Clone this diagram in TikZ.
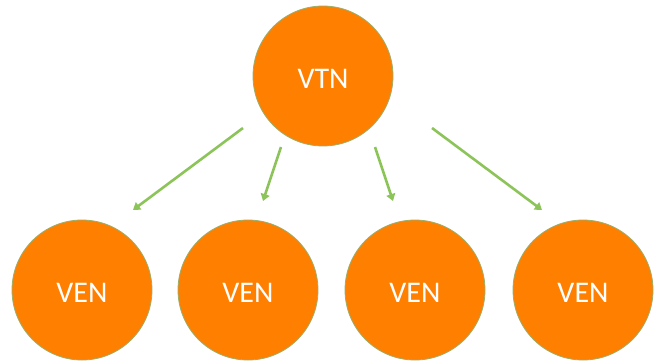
\documentclass[tikz,border=0pt]{standalone}
\usepackage{fontspec}
\setmainfont{Carlito}
\usetikzlibrary{arrows.meta}
\definecolor{orangefill}{HTML}{FF7F00}
\definecolor{rimgreen}{HTML}{9BAF6A}
\definecolor{arrowgreen}{HTML}{8CC45A}
\newcommand{\balltext}[1]{\raisebox{0pt}[\dimexpr\height+5pt\relax][0pt]{#1}}
\begin{document}
\begin{tikzpicture}[x=1pt,y=-1pt,
  ball/.style={circle, fill=orangefill, draw=rimgreen, line width=0.8pt, minimum size=140pt, inner sep=0pt, text=white, font=\fontsize{30}{36}\selectfont},
  link/.style={draw=arrowgreen, line width=2.6pt, -{Triangle[length=7pt,width=9pt]}}]
\useasboundingbox (0,0) rectangle (655,362);
\node[ball] (vtn) at (323,76) {\balltext{VTN}};
\node[ball] (ven1) at (82,290) {\balltext{VEN}};
\node[ball] (ven2) at (248,290) {\balltext{VEN}};
\node[ball] (ven3) at (415,290) {\balltext{VEN}};
\node[ball] (ven4) at (583,290) {\balltext{VEN}};
\coordinate (s1) at (243,128);
\coordinate (e1) at (133,210);
\coordinate (s2) at (281,147);
\coordinate (e2) at (263,201);
\coordinate (s3) at (375,147);
\coordinate (e3) at (393,201);
\coordinate (s4) at (432,128);
\coordinate (e4) at (542,210);
\draw[link] (s1) -- (e1);
\draw[link] (s2) -- (e2);
\draw[link] (s3) -- (e3);
\draw[link] (s4) -- (e4);
\end{tikzpicture}
\end{document}
